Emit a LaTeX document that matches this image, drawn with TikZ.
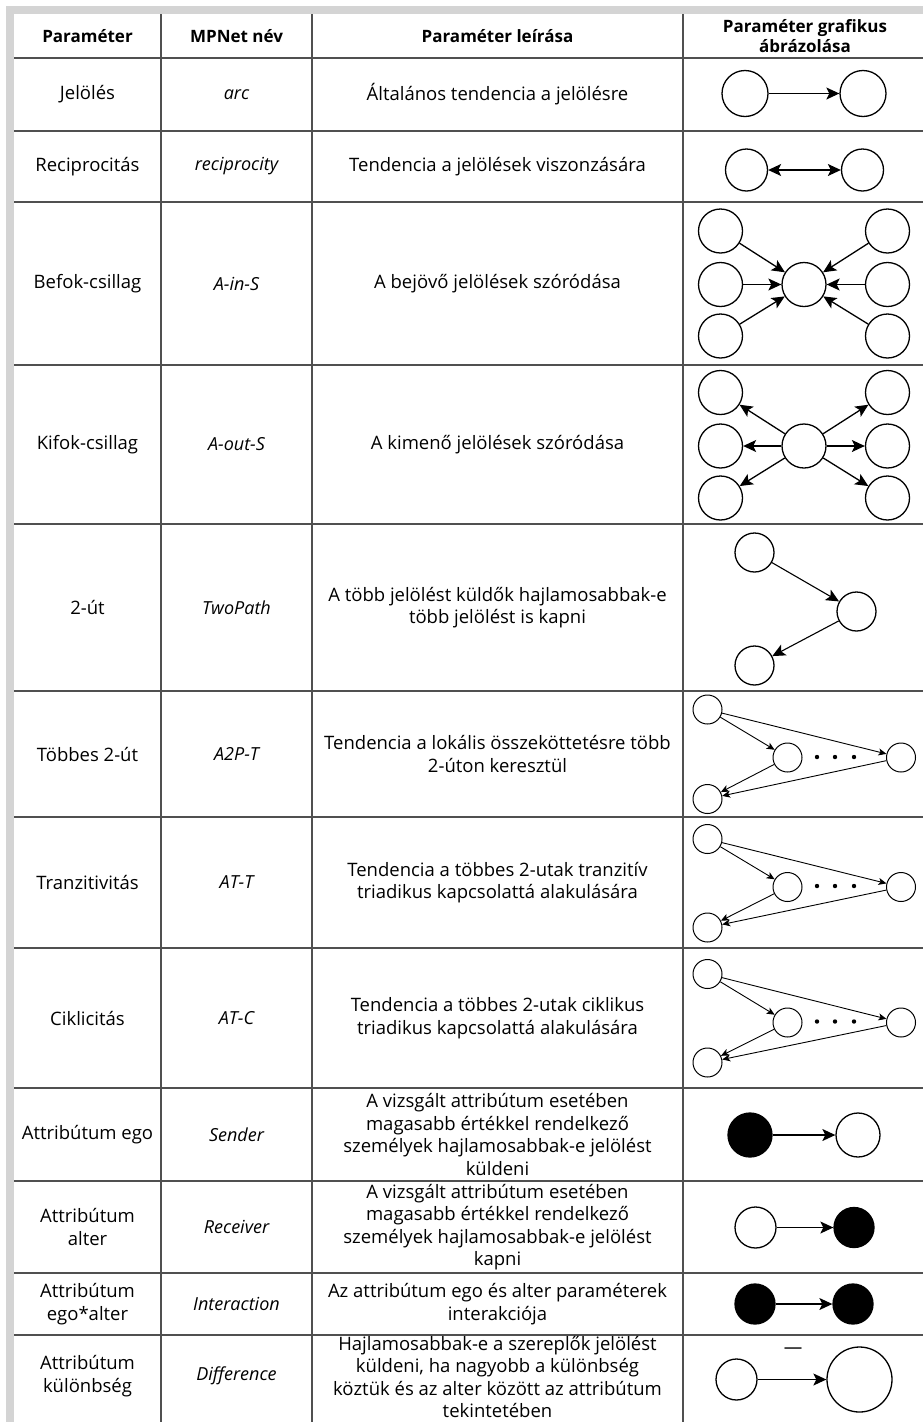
\documentclass[tikz,border=0pt]{standalone}
\usepackage{fontspec}
\setmainfont{Open Sans}
\usetikzlibrary{arrows.meta}

\definecolor{rulec}{RGB}{80,80,80}
\definecolor{bandc}{RGB}{212,212,212}

\tikzset{
  vtx/.style={circle,draw,line width=1.3pt,inner sep=0pt,minimum size=#1},
  vtx/.default=44pt,
  fullvtx/.style={vtx=#1,fill=black},
  smallvtx/.style={circle,draw,line width=1pt,inner sep=0pt,minimum size=29pt},
  lnk/.style={-{Stealth[length=13pt,width=12pt,inset=3pt]},line width=1.3pt},
  thinlnk/.style={-{Stealth[length=8pt,width=7pt,inset=2pt]},line width=0.9pt},
  cell/.style={align=center,font=\fontsize{18.5}{22.5}\selectfont},
  headcell/.style={cell,font=\fontsize{17}{20}\selectfont\bfseries},
  namecell/.style={cell,font=\fontsize{18}{22.5}\selectfont\itshape},
}

\begin{document}
\begin{tikzpicture}[x=1pt,y=-1pt]

% page and grey frame
\fill[white] (0,0) rectangle (923,1422);
\useasboundingbox (0,0) rectangle (923,1422);
\fill[bandc] (6,6) rectangle (14,1422);
\fill[bandc] (6,6) rectangle (923,14);

% table rules
\foreach \y in {58,131,202,365,524,691,817,948,1088,1181,1273,1335}
  \draw[rulec,line width=1.3pt] (14,\y) -- (923,\y);
\foreach \x in {161,312,683}
  \draw[rulec,line width=1.3pt] (\x,14) -- (\x,1422);

% header
\node[headcell] (h1) at (87.5,36) {Paraméter};
\node[headcell] (h2) at (236.5,36) {MPNet név};
\node[headcell] (h3) at (497.5,36) {Paraméter leírása};
\node[headcell] (h4) at (805,36) {Paraméter grafikus\\ábrázolása};

% first column
\node[cell] (p1) at (87.5,94.5) {Jelölés};
\node[cell] (p2) at (87.5,166.5) {Reciprocitás};
\node[cell] (p3) at (87.5,283.5) {Befok-csillag};
\node[cell] (p4) at (87.5,444.5) {Kifok-csillag};
\node[cell] (p5) at (87.5,607.5) {2-út};
\node[cell] (p6) at (87.5,754) {Többes 2-út};
\node[cell] (p7) at (87.5,882.5) {Tranzitivitás};
\node[cell] (p8) at (87.5,1018) {Ciklicitás};
\node[cell] (p9) at (87.5,1134.5) {Attribútum ego};
\node[cell] (p10) at (87.5,1227) {Attribútum\\alter};
\node[cell] (p11) at (87.5,1304) {Attribútum\\ego*alter};
\node[cell] (p12) at (87.5,1376) {Attribútum\\különbség};

% MPNet names
\node[namecell] (m1) at (236.5,94.5) {arc};
\node[namecell] (m2) at (236.5,166.5) {reciprocity};
\node[namecell] (m3) at (236.5,283.5) {A-in-S};
\node[namecell] (m4) at (236.5,444.5) {A-out-S};
\node[namecell] (m5) at (236.5,607.5) {TwoPath};
\node[namecell] (m6) at (236.5,754) {A2P-T};
\node[namecell] (m7) at (236.5,882.5) {AT-T};
\node[namecell] (m8) at (236.5,1018) {AT-C};
\node[namecell] (m9) at (236.5,1134.5) {Sender};
\node[namecell] (m10) at (236.5,1227) {Receiver};
\node[namecell] (m11) at (236.5,1304) {Interaction};
\node[namecell] (m12) at (236.5,1376) {Difference};

% descriptions
\node[cell] (d1) at (497.5,94.5) {Általános tendencia a jelölésre};
\node[cell] (d2) at (497.5,166.5) {Tendencia a jelölések viszonzására};
\node[cell] (d3) at (497.5,283.5) {A bejövő jelölések szóródása};
\node[cell] (d4) at (497.5,444.5) {A kimenő jelölések szóródása};
\node[cell] (d5) at (497.5,607.5) {A több jelölést küldők hajlamosabbak-e\\több jelölést is kapni};
\node[cell] (d6) at (497.5,754) {Tendencia a lokális összeköttetésre több\\2-úton keresztül};
\node[cell] (d7) at (497.5,882.5) {Tendencia a többes 2-utak tranzitív\\triadikus kapcsolattá alakulására};
\node[cell] (d8) at (497.5,1018) {Tendencia a többes 2-utak ciklikus\\triadikus kapcsolattá alakulására};
\node[cell] (d9) at (497.5,1134.5) {A vizsgált attribútum esetében\\magasabb értékkel rendelkező\\személyek hajlamosabbak-e jelölést\\küldeni};
\node[cell] (d10) at (497.5,1227) {A vizsgált attribútum esetében\\magasabb értékkel rendelkező\\személyek hajlamosabbak-e jelölést\\kapni};
\node[cell] (d11) at (497.5,1304) {Az attribútum ego és alter paraméterek\\interakciója};
\node[cell] (d12) at (497.5,1377) {Hajlamosabbak-e a szereplők jelölést\\küldeni, ha nagyobb a különbség\\köztük és az alter között az attribútum\\tekintetében};

% arc
\node[vtx=46pt] (a1) at (745,93.5) {};
\node[vtx=46pt] (a2) at (863,93.5) {};
\draw[lnk] (a1) -- (a2);

% reciprocity
\node[vtx=42pt] (b1) at (746.5,170) {};
\node[vtx=42pt] (b2) at (862.5,170) {};
\draw[lnk,{Stealth[length=13pt,width=12pt,inset=3pt]}-{Stealth[length=13pt,width=12pt,inset=3pt]}] (b1) -- (b2);

% in-star
\node[vtx] (c0) at (804,284.5) {};
\node[vtx] (c1) at (720.5,231) {};
\node[vtx] (c2) at (720.5,284.5) {};
\node[vtx] (c3) at (720.5,336) {};
\node[vtx] (c4) at (887.5,231) {};
\node[vtx] (c5) at (887.5,284.5) {};
\node[vtx] (c6) at (887.5,336) {};
\foreach \i in {1,...,6}
  \draw[lnk] (c\i) -- (c0);

% out-star
\node[vtx] (o0) at (804,446) {};
\node[vtx] (o1) at (720.5,392.5) {};
\node[vtx] (o2) at (720.5,446) {};
\node[vtx] (o3) at (720.5,498) {};
\node[vtx] (o4) at (887.5,392.5) {};
\node[vtx] (o5) at (887.5,446) {};
\node[vtx] (o6) at (887.5,498) {};
\foreach \i in {1,...,6}
  \draw[lnk] (o0) -- (o\i);

% two-path
\node[vtx=39pt] (e1) at (754.5,552.5) {};
\node[vtx=39pt] (e2) at (856.5,611.5) {};
\node[vtx=39pt] (e3) at (754.5,665.5) {};
\draw[lnk,line width=1.1pt] (e1) -- (e2);
\draw[lnk,line width=1.1pt] (e2) -- (e3);

% multiple two-paths
\node[smallvtx] (f1) at (707.5,709.5) {};
\node[smallvtx] (f2) at (787.5,757.5) {};
\node[smallvtx] (f3) at (901,757.5) {};
\node[smallvtx] (f4) at (707.5,799) {};
\draw[thinlnk] (f1) -- (f2);
\draw[thinlnk] (f1) -- (f3);
\draw[thinlnk] (f2) -- (f4);
\draw[thinlnk] (f3) -- (f4);
\foreach \x in {817,835,854}
  \fill (\x,757) circle (2.2pt);

% transitivity
\node[smallvtx] (g1) at (707.5,839) {};
\node[smallvtx] (g2) at (787.5,887) {};
\node[smallvtx] (g3) at (901,887) {};
\node[smallvtx] (g4) at (707.5,927.5) {};
\draw[thinlnk] (g1) -- (g2);
\draw[thinlnk] (g1) -- (g3);
\draw[thinlnk] (g2) -- (g4);
\draw[thinlnk] (g3) -- (g4);
\foreach \x in {817,835,854}
  \fill (\x,886) circle (2.2pt);

% cyclicity
\node[smallvtx] (k1) at (707.5,974) {};
\node[smallvtx] (k2) at (787.5,1022.5) {};
\node[smallvtx] (k3) at (901,1022.5) {};
\node[smallvtx] (k4) at (707.5,1062.5) {};
\draw[thinlnk] (k1) -- (k2);
\draw[thinlnk] (k1) -- (k3);
\draw[thinlnk] (k2) -- (k4);
\draw[thinlnk] (k3) -- (k4);
\foreach \x in {817,835,854}
  \fill (\x,1021.5) circle (2.2pt);

% sender
\node[fullvtx=44pt] (s1) at (750,1135) {};
\node[vtx=44pt] (s2) at (858,1135) {};
\draw[lnk] (s1) -- (s2);

% receiver
\node[vtx=41pt] (r1) at (755.5,1227.5) {};
\node[fullvtx=40pt] (r2) at (854,1227.5) {};
\draw[lnk] (r1) -- (r2);

% interaction
\node[fullvtx=40pt] (i1) at (755,1304) {};
\node[fullvtx=40pt] (i2) at (853,1304) {};
\draw[lnk] (i1) -- (i2);

% difference
\node[vtx=41pt] (x1) at (736.5,1379.5) {};
\node[vtx=65pt] (x2) at (859.5,1379.5) {};
\draw[lnk] (x1) -- (x2);
\node[cell] (minus) at (793,1351) {—};

\end{tikzpicture}
\end{document}
